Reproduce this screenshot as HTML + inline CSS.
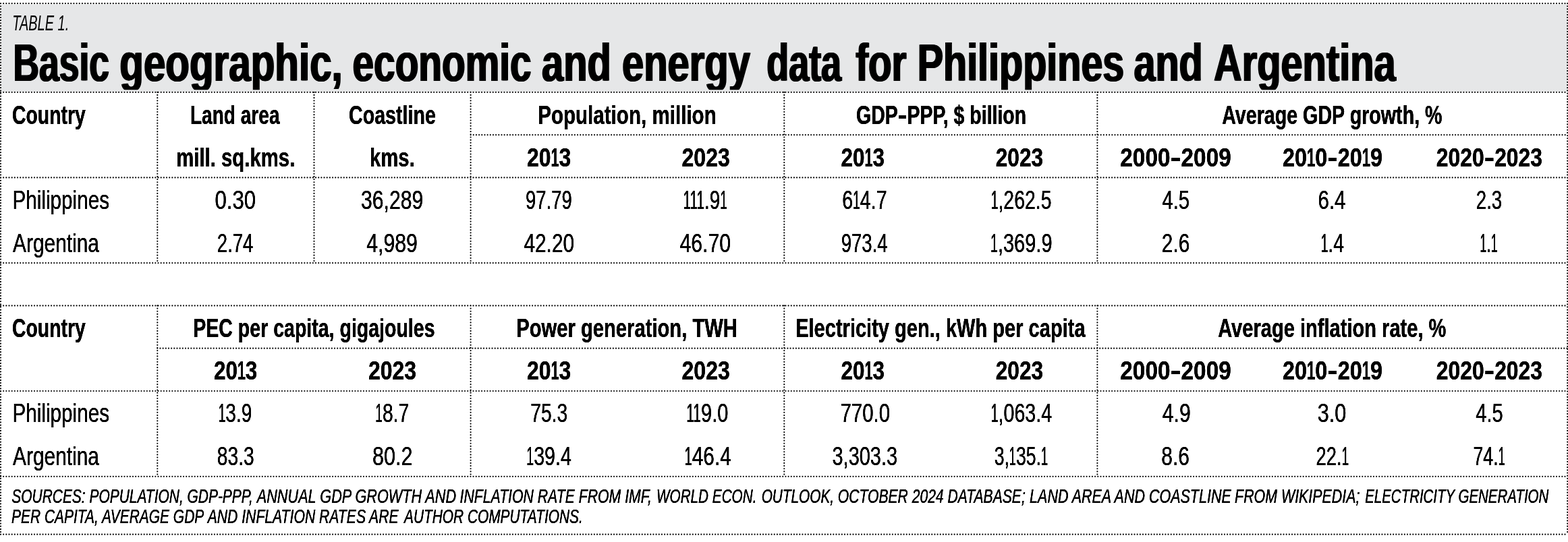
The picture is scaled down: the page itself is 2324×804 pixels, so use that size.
<!DOCTYPE html>
<html lang="en"><head><meta charset="utf-8"><title>Table 1. Basic geographic, economic and energy data for Philippines and Argentina</title>
<style>html,body{margin:0;padding:0;background:#fff}body{width:2324px;height:804px;overflow:hidden}svg{display:block}text{font-family:"Liberation Sans",sans-serif;fill:#000;white-space:pre}.b{font-weight:bold}.i{font-style:italic}.ln{stroke:#000;stroke-width:2.2;stroke-linecap:round;stroke-dasharray:0 4.17;fill:none}</style></head><body>
<svg width="2324" height="804" viewBox="0 0 2324 804">
<defs><filter id="ft" x="0" y="0" width="2324" height="804" filterUnits="userSpaceOnUse"><feOffset in="SourceGraphic" dx="0.90" result="a"/><feOffset in="SourceGraphic" dx="-0.90" result="b"/><feMerge><feMergeNode in="a"/><feMergeNode in="b"/><feMergeNode in="SourceGraphic"/></feMerge></filter><filter id="fh" x="0" y="0" width="2324" height="804" filterUnits="userSpaceOnUse"><feOffset in="SourceGraphic" dx="0.40" result="a"/><feOffset in="SourceGraphic" dx="-0.40" result="b"/><feMerge><feMergeNode in="a"/><feMergeNode in="b"/><feMergeNode in="SourceGraphic"/></feMerge></filter><filter id="fs" x="0" y="0" width="2324" height="804" filterUnits="userSpaceOnUse"><feOffset in="SourceGraphic" dx="0.15" result="a"/><feOffset in="SourceGraphic" dx="-0.15" result="b"/><feMerge><feMergeNode in="a"/><feMergeNode in="b"/><feMergeNode in="SourceGraphic"/></feMerge></filter><filter id="fn" x="0" y="0" width="2324" height="804" filterUnits="userSpaceOnUse"><feOffset in="SourceGraphic" dx="0.45" result="a"/><feOffset in="SourceGraphic" dx="-0.45" result="b"/><feMerge><feMergeNode in="a"/><feMergeNode in="b"/><feMergeNode in="SourceGraphic"/></feMerge></filter><filter id="fd" x="0" y="0" width="2324" height="804" filterUnits="userSpaceOnUse"><feOffset in="SourceGraphic" dx="0.15" result="a"/><feOffset in="SourceGraphic" dx="-0.15" result="b"/><feMerge><feMergeNode in="a"/><feMergeNode in="b"/><feMergeNode in="SourceGraphic"/></feMerge></filter><clipPath id="ct"><rect x="0" y="40" width="2324" height="93.2"/></clipPath></defs>
<rect x="0" y="0" width="2324" height="804" fill="#fff"/>
<rect x="2" y="6.5" width="2321" height="129.4" fill="#e6e7e8"/>
<path class="ln" d="M1.00 5.10H2323.20M1.00 136.80H2323.20M697.60 200.10H2323.20M1.00 263.40H2323.20M1.00 390.10H2323.20M1.00 453.40H2323.20M233.30 516.70H2323.20M1.00 580.00H2323.20M1.00 706.80H2323.20M1.00 792.70H2323.20M1.00 5.10V792.70M2323.20 5.10V792.70M233.30 136.80V390.10M465.50 136.80V390.10M697.60 136.80V390.10M1162.30 136.80V390.10M1626.40 136.80V390.10M233.30 453.40V706.80M697.60 453.40V706.80M1162.30 453.40V706.80M1626.40 453.40V706.80"/>
<g>
<text id="t0" class="i" transform="translate(18.25 44.75) scale(0.6553 1)" font-size="30.5">TABLE 1.</text>
</g>
<g filter="url(#ft)" clip-path="url(#ct)">
<text id="t1" class="b" transform="translate(19.53 120.10) scale(0.6911 1)" font-size="77.3">Basic</text>
<text id="t2" class="b" transform="translate(177.27 120.10) scale(0.7545 1)" font-size="77.3">geographic,</text>
<text id="t3" class="b" transform="translate(522.45 120.10) scale(0.7350 1)" font-size="77.3">economic</text>
<text id="t4" class="b" transform="translate(803.02 120.10) scale(0.7478 1)" font-size="77.3">and</text>
<text id="t5" class="b" transform="translate(922.00 120.10) scale(0.7496 1)" font-size="77.3">energy</text>
<text id="t6" class="b" transform="translate(1136.32 120.10) scale(0.6966 1)" font-size="77.3">data</text>
<text id="t7" class="b" transform="translate(1268.16 120.10) scale(0.7324 1)" font-size="77.3">for</text>
<text id="t8" class="b" transform="translate(1359.69 120.10) scale(0.7438 1)" font-size="77.3">Philippines</text>
<text id="t9" class="b" transform="translate(1680.45 120.10) scale(0.7445 1)" font-size="77.3">and</text>
<text id="t10" class="b" transform="translate(1798.98 120.10) scale(0.7475 1)" font-size="77.3">Argentina</text>
</g>
<g filter="url(#fh)">
<text id="t11" class="b" transform="translate(18.02 183.90) scale(0.7372 1)" font-size="38.5">Country</text>
<text id="t12" class="b" transform="translate(281.99 183.90) scale(0.7288 1)" font-size="38.5">Land area</text>
<text id="t14" class="b" transform="translate(517.01 183.90) scale(0.7441 1)" font-size="38.5">Coastline</text>
<text id="t16" class="b" transform="translate(797.16 183.90) scale(0.7685 1)" font-size="38.5">Population, million</text>
<text id="t17" class="b" transform="translate(1269.01 183.90) scale(0.7396 1)" font-size="38.5">GDP<tspan textLength="18.59" lengthAdjust="spacingAndGlyphs">-</tspan>PPP, $ billion</text>
<text id="t18" class="b" transform="translate(1811.15 183.90) scale(0.7446 1)" font-size="38.5">Average GDP growth, %</text>
</g>
<g filter="url(#fh)">
<text id="t13" class="b" transform="translate(261.21 246.80) scale(0.7622 1)" font-size="38.5">mill. sq.kms.</text>
<text id="t15" class="b" transform="translate(547.97 246.80) scale(0.7621 1)" font-size="38.5">kms.</text>
</g>
<g filter="url(#fn)">
<text id="t19" class="b" transform="translate(780.89 246.80) scale(0.8299 1)" font-size="38.5">20<tspan textLength="14.56" lengthAdjust="spacingAndGlyphs">1</tspan>3</text>
<text id="t20" class="b" transform="translate(1010.49 246.80) scale(0.8331 1)" font-size="38.5">2023</text>
<text id="t21" class="b" transform="translate(1246.55 246.80) scale(0.8178 1)" font-size="38.5">20<tspan textLength="14.56" lengthAdjust="spacingAndGlyphs">1</tspan>3</text>
<text id="t22" class="b" transform="translate(1475.68 246.80) scale(0.8223 1)" font-size="38.5">2023</text>
<text id="t23" class="b" transform="translate(1660.30 246.80) scale(0.8662 1)" font-size="38.5">2000<tspan textLength="18.59" lengthAdjust="spacingAndGlyphs">-</tspan>2009</text>
<text id="t24" class="b" transform="translate(1900.89 246.80) scale(0.8412 1)" font-size="38.5">20<tspan textLength="14.56" lengthAdjust="spacingAndGlyphs">1</tspan>0<tspan textLength="18.59" lengthAdjust="spacingAndGlyphs">-</tspan>20<tspan textLength="14.56" lengthAdjust="spacingAndGlyphs">1</tspan>9</text>
<text id="t25" class="b" transform="translate(2128.87 246.80) scale(0.8280 1)" font-size="38.5">2020<tspan textLength="18.59" lengthAdjust="spacingAndGlyphs">-</tspan>2023</text>
</g>
<g filter="url(#fd)">
<text id="t26" transform="translate(18.51 309.90) scale(0.7749 1)" font-size="38.3">Philippines</text>
<text id="t28" transform="translate(318.47 309.90) scale(0.7992 1)" font-size="39.0">0.30</text>
<text id="t29" transform="translate(535.05 309.90) scale(0.7734 1)" font-size="39.0">36,289</text>
<text id="t30" transform="translate(779.06 309.90) scale(0.7036 1)" font-size="39.0">97.79</text>
<text id="t31" transform="translate(1012.55 309.90) scale(0.7130 1)" font-size="39.0"><tspan textLength="44.25" lengthAdjust="spacingAndGlyphs">111</tspan>.9<tspan textLength="14.75" lengthAdjust="spacingAndGlyphs">1</tspan></text>
<text id="t32" transform="translate(1248.15 309.90) scale(0.7331 1)" font-size="39.0">6<tspan textLength="14.75" lengthAdjust="spacingAndGlyphs">1</tspan>4.7</text>
<text id="t33" transform="translate(1468.69 309.90) scale(0.7303 1)" font-size="39.0"><tspan textLength="14.75" lengthAdjust="spacingAndGlyphs">1</tspan>,262.5</text>
<text id="t34" transform="translate(1722.41 309.90) scale(0.7523 1)" font-size="39.0">4.5</text>
<text id="t35" transform="translate(1953.53 309.90) scale(0.7563 1)" font-size="39.0">6.4</text>
<text id="t36" transform="translate(2187.76 309.90) scale(0.7100 1)" font-size="39.0">2.3</text>
</g>
<g filter="url(#fd)">
<text id="t27" transform="translate(19.00 373.80) scale(0.7807 1)" font-size="38.3">Argentina</text>
<text id="t37" transform="translate(321.87 373.80) scale(0.7053 1)" font-size="39.0">2.74</text>
<text id="t38" transform="translate(543.22 373.80) scale(0.7757 1)" font-size="39.0">4,989</text>
<text id="t39" transform="translate(776.39 373.80) scale(0.7657 1)" font-size="39.0">42.20</text>
<text id="t40" transform="translate(1007.42 373.80) scale(0.7766 1)" font-size="39.0">46.70</text>
<text id="t41" transform="translate(1246.70 373.80) scale(0.7072 1)" font-size="39.0">973.4</text>
<text id="t42" transform="translate(1467.96 373.80) scale(0.7435 1)" font-size="39.0"><tspan textLength="14.75" lengthAdjust="spacingAndGlyphs">1</tspan>,369.9</text>
<text id="t43" transform="translate(1721.84 373.80) scale(0.7661 1)" font-size="39.0">2.6</text>
<text id="t44" transform="translate(1957.64 373.80) scale(0.7261 1)" font-size="39.0"><tspan textLength="14.75" lengthAdjust="spacingAndGlyphs">1</tspan>.4</text>
<text id="t45" transform="translate(2193.42 373.80) scale(0.6524 1)" font-size="39.0"><tspan textLength="14.75" lengthAdjust="spacingAndGlyphs">1</tspan>.<tspan textLength="14.75" lengthAdjust="spacingAndGlyphs">1</tspan></text>
</g>
<g filter="url(#fh)">
<text id="t46" class="b" transform="translate(18.02 499.90) scale(0.7372 1)" font-size="38.5">Country</text>
<text id="t47" class="b" transform="translate(286.26 499.90) scale(0.7412 1)" font-size="38.5">PEC per capita, gigajoules</text>
<text id="t48" class="b" transform="translate(765.18 499.90) scale(0.7589 1)" font-size="38.5">Power generation, TWH</text>
<text id="t49" class="b" transform="translate(1179.15 499.90) scale(0.7548 1)" font-size="38.5">Electricity gen., kWh per capita</text>
<text id="t50" class="b" transform="translate(1805.13 499.90) scale(0.7558 1)" font-size="38.5">Average inflation rate, %</text>
</g>
<g filter="url(#fn)">
<text id="t51" class="b" transform="translate(316.90 562.80) scale(0.8171 1)" font-size="38.5">20<tspan textLength="14.56" lengthAdjust="spacingAndGlyphs">1</tspan>3</text>
<text id="t52" class="b" transform="translate(545.89 562.80) scale(0.8316 1)" font-size="38.5">2023</text>
<text id="t53" class="b" transform="translate(780.89 562.80) scale(0.8299 1)" font-size="38.5">20<tspan textLength="14.56" lengthAdjust="spacingAndGlyphs">1</tspan>3</text>
<text id="t54" class="b" transform="translate(1010.49 562.80) scale(0.8331 1)" font-size="38.5">2023</text>
<text id="t55" class="b" transform="translate(1246.55 562.80) scale(0.8178 1)" font-size="38.5">20<tspan textLength="14.56" lengthAdjust="spacingAndGlyphs">1</tspan>3</text>
<text id="t56" class="b" transform="translate(1475.68 562.80) scale(0.8223 1)" font-size="38.5">2023</text>
<text id="t57" class="b" transform="translate(1660.30 562.80) scale(0.8662 1)" font-size="38.5">2000<tspan textLength="18.59" lengthAdjust="spacingAndGlyphs">-</tspan>2009</text>
<text id="t58" class="b" transform="translate(1900.89 562.80) scale(0.8412 1)" font-size="38.5">20<tspan textLength="14.56" lengthAdjust="spacingAndGlyphs">1</tspan>0<tspan textLength="18.59" lengthAdjust="spacingAndGlyphs">-</tspan>20<tspan textLength="14.56" lengthAdjust="spacingAndGlyphs">1</tspan>9</text>
<text id="t59" class="b" transform="translate(2128.87 562.80) scale(0.8280 1)" font-size="38.5">2020<tspan textLength="18.59" lengthAdjust="spacingAndGlyphs">-</tspan>2023</text>
</g>
<g filter="url(#fd)">
<text id="t60" transform="translate(18.51 625.90) scale(0.7749 1)" font-size="38.3">Philippines</text>
<text id="t62" transform="translate(323.71 625.90) scale(0.7197 1)" font-size="39.0"><tspan textLength="14.75" lengthAdjust="spacingAndGlyphs">1</tspan>3.9</text>
<text id="t63" transform="translate(556.23 625.90) scale(0.7243 1)" font-size="39.0"><tspan textLength="14.75" lengthAdjust="spacingAndGlyphs">1</tspan>8.7</text>
<text id="t64" transform="translate(786.28 625.90) scale(0.7234 1)" font-size="39.0">75.3</text>
<text id="t65" transform="translate(1017.16 625.90) scale(0.7428 1)" font-size="39.0"><tspan textLength="29.50" lengthAdjust="spacingAndGlyphs">11</tspan>9.0</text>
<text id="t66" transform="translate(1245.49 625.90) scale(0.7542 1)" font-size="39.0">770.0</text>
<text id="t67" transform="translate(1468.67 625.90) scale(0.7348 1)" font-size="39.0"><tspan textLength="14.75" lengthAdjust="spacingAndGlyphs">1</tspan>,063.4</text>
<text id="t68" transform="translate(1722.68 625.90) scale(0.7751 1)" font-size="39.0">4.9</text>
<text id="t69" transform="translate(1952.73 625.90) scale(0.7866 1)" font-size="39.0">3.0</text>
<text id="t70" transform="translate(2187.28 625.90) scale(0.7485 1)" font-size="39.0">4.5</text>
</g>
<g filter="url(#fd)">
<text id="t61" transform="translate(19.00 689.80) scale(0.7807 1)" font-size="38.3">Argentina</text>
<text id="t71" transform="translate(321.80 689.80) scale(0.7230 1)" font-size="39.0">83.3</text>
<text id="t72" transform="translate(551.95 689.80) scale(0.7856 1)" font-size="39.0">80.2</text>
<text id="t73" transform="translate(780.35 689.80) scale(0.7343 1)" font-size="39.0"><tspan textLength="14.75" lengthAdjust="spacingAndGlyphs">1</tspan>39.4</text>
<text id="t74" transform="translate(1014.45 689.80) scale(0.7656 1)" font-size="39.0"><tspan textLength="14.75" lengthAdjust="spacingAndGlyphs">1</tspan>46.4</text>
<text id="t75" transform="translate(1233.47 689.80) scale(0.7430 1)" font-size="39.0">3,303.3</text>
<text id="t76" transform="translate(1473.63 689.80) scale(0.6835 1)" font-size="39.0">3,<tspan textLength="14.75" lengthAdjust="spacingAndGlyphs">1</tspan>35.<tspan textLength="14.75" lengthAdjust="spacingAndGlyphs">1</tspan></text>
<text id="t77" transform="translate(1721.34 689.80) scale(0.7689 1)" font-size="39.0">8.6</text>
<text id="t78" transform="translate(1950.62 689.80) scale(0.7024 1)" font-size="39.0">22.<tspan textLength="14.75" lengthAdjust="spacingAndGlyphs">1</tspan></text>
<text id="t79" transform="translate(2183.48 689.80) scale(0.6859 1)" font-size="39.0">74.<tspan textLength="14.75" lengthAdjust="spacingAndGlyphs">1</tspan></text>
</g>
<g filter="url(#fs)">
<text id="t80" class="i" transform="translate(17.28 746.40) scale(0.7099 1)" font-size="29.5">SOURCES: POPULATION, GDP-PPP,</text>
<text id="t81" class="i" transform="translate(380.77 746.40) scale(0.7346 1)" font-size="29.5">ANNUAL GDP GROWTH AND</text>
<text id="t82" class="i" transform="translate(681.55 746.40) scale(0.7204 1)" font-size="29.5">INFLATION RATE FROM IMF,</text>
<text id="t83" class="i" transform="translate(972.95 746.40) scale(0.7027 1)" font-size="29.5">WORLD ECON.</text>
<text id="t84" class="i" transform="translate(1128.65 746.40) scale(0.7053 1)" font-size="29.5">OUTLOOK,</text>
<text id="t85" class="i" transform="translate(1241.82 746.40) scale(0.7157 1)" font-size="29.5">OCTOBER 2024 DATABASE;</text>
<text id="t86" class="i" transform="translate(1526.11 746.40) scale(0.7294 1)" font-size="29.5">LAND AREA AND COASTLINE</text>
<text id="t87" class="i" transform="translate(1830.12 746.40) scale(0.7252 1)" font-size="29.5">FROM WIKIPEDIA;</text>
<text id="t88" class="i" transform="translate(2023.18 746.40) scale(0.6940 1)" font-size="29.5">ELECTRICITY GENERATION</text>
</g>
<g filter="url(#fs)">
<text id="t89" class="i" transform="translate(17.09 775.80) scale(0.7101 1)" font-size="29.5">PER CAPITA, AVERAGE GDP</text>
<text id="t90" class="i" transform="translate(307.68 775.80) scale(0.7178 1)" font-size="29.5">AND INFLATION RATES ARE</text>
<text id="t91" class="i" transform="translate(598.97 775.80) scale(0.7077 1)" font-size="29.5">AUTHOR COMPUTATIONS.</text>
</g>
</svg></body></html>
